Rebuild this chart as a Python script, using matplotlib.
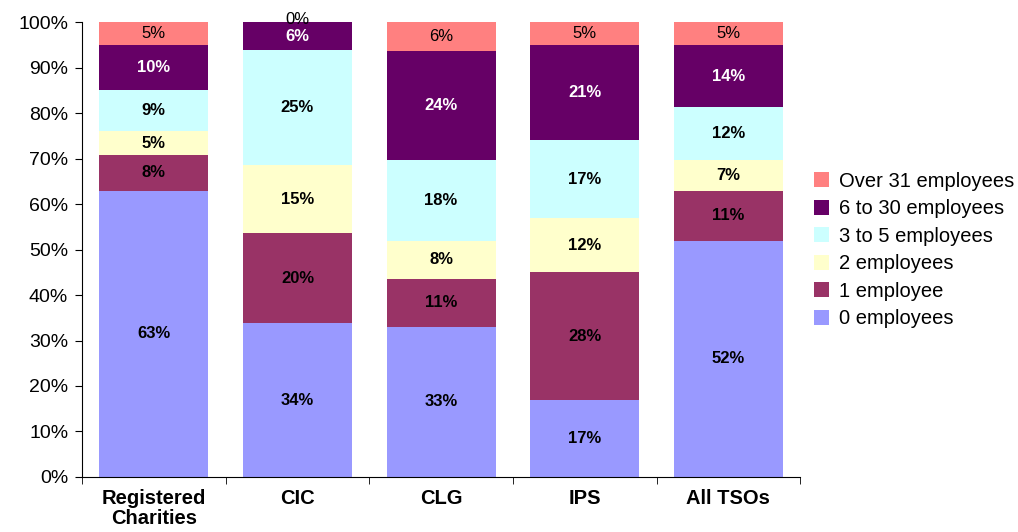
import numpy as np
import matplotlib.pyplot as plt
from matplotlib.patches import Patch
from matplotlib.ticker import FuncFormatter

plt.rcParams['font.family'] = ['Liberation Sans', 'DejaVu Sans']

# data (percent of organisations in each legal form)
categories = ['Registered\nCharities', 'CIC', 'CLG', 'IPS', 'All TSOs']
series_names = ['0 employees', '1 employee', '2 employees',
                '3 to 5 employees', '6 to 30 employees', 'Over 31 employees']
emp_0 = [62.9, 33.8, 33.0, 16.9, 51.9]
emp_1 = [7.9, 19.8, 10.6, 28.1, 11.0]
emp_2 = [5.2, 15.0, 8.2, 11.9, 6.8]
emp_3_5 = [9.0, 25.2, 17.8, 17.1, 11.6]
emp_6_30 = [10.0, 6.2, 24.1, 21.0, 13.6]
emp_31 = [5.0, 0.0, 6.3, 5.0, 5.1]

values = [emp_0, emp_1, emp_2, emp_3_5, emp_6_30, emp_31]
colors = ['#9999FF', '#993366', '#FFFFCC', '#CCFFFF', '#660066', '#FF8080']
label_colors = ['black', 'black', 'black', 'black', 'white', 'black']
label_weights = ['bold', 'bold', 'bold', 'bold', 'bold', 'normal']

fig = plt.figure(figsize=(10.18, 5.32), dpi=100)
ax = fig.add_axes([0.0806, 0.1034, 0.7054, 0.8552])

x = np.arange(len(categories))
bottom = np.zeros(len(categories))
for vals, col, lc, lw in zip(values, colors, label_colors, label_weights):
    vals = np.array(vals)
    ax.bar(x, vals, 0.76, bottom=bottom, color=col, edgecolor='none')
    for xi, b, v in zip(x, bottom, vals):
        y = b + v / 2
        if v == 0:
            y = b + 0.6
        ax.text(xi, y, f'{v:.0f}%', ha='center', va='center',
                fontsize=12, color=lc, fontweight=lw)
    bottom += vals

ax.set_xlim(-0.5, len(categories) - 0.5)
ax.set_ylim(0, 100)
ax.set_yticks(np.arange(0, 101, 10))
ax.yaxis.set_major_formatter(FuncFormatter(lambda v, p: f'{v:.0f}%'))
ax.tick_params(axis='y', labelsize=14, direction='out', length=5, pad=5)

ax.set_xticks(x)
ax.set_xticklabels(categories, fontsize=14.5, fontweight='bold', linespacing=1.05)
ax.set_xticks(np.arange(-0.5, len(categories)), minor=True)
ax.tick_params(axis='x', which='major', length=0, pad=9)
ax.tick_params(axis='x', which='minor', length=5, direction='out')

ax.spines['top'].set_visible(False)
ax.spines['right'].set_visible(False)

handles = [Patch(facecolor=c, edgecolor='none') for c in colors]
fig.legend(handles[::-1], series_names[::-1], loc='center left',
           bbox_to_anchor=(0.782, 0.53), frameon=False, fontsize=14.5,
           handlelength=0.75, handleheight=0.75, handletextpad=0.5,
           labelspacing=0.42)

fig.savefig('out.png', dpi=100)
